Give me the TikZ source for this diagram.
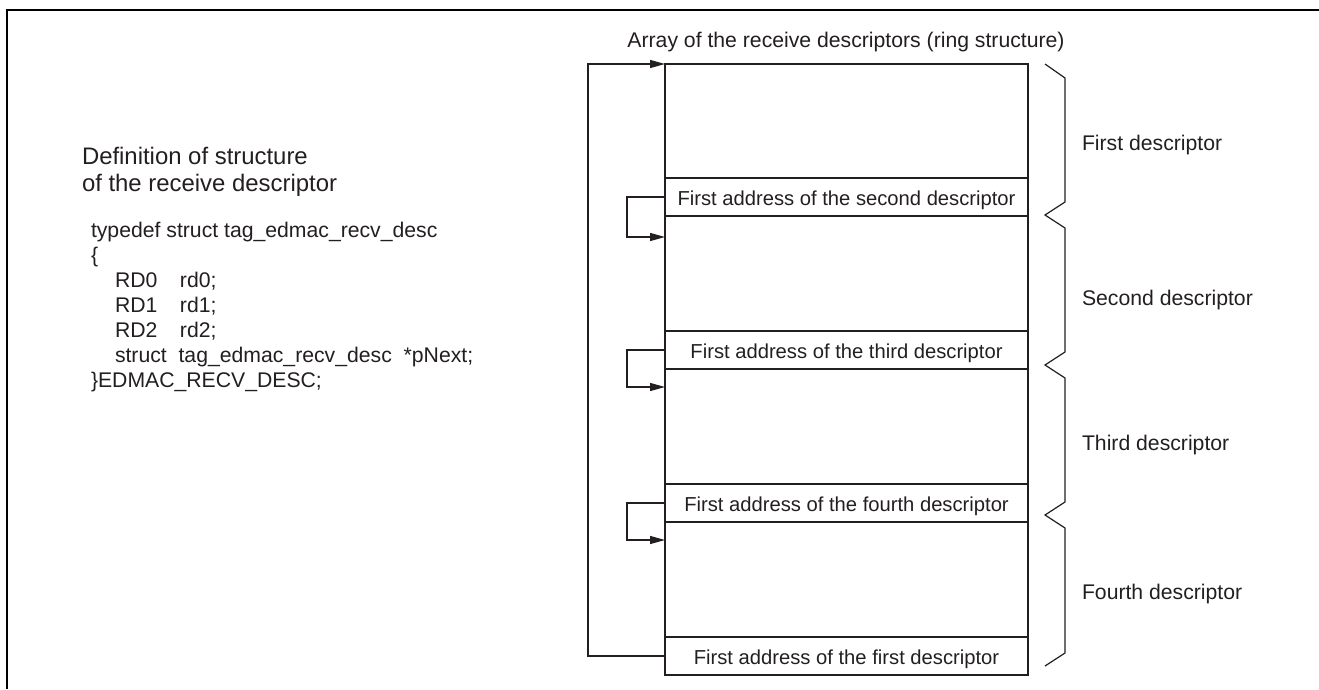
\documentclass[tikz,border=0pt]{standalone}
\usepackage{fontspec}
\setmainfont{Liberation Sans}
\usetikzlibrary{arrows.meta}
\definecolor{ink}{HTML}{231F20}

\begin{document}
\begin{tikzpicture}[x=1pt,y=-1pt,
  every node/.style={text=ink, inner sep=0pt, outer sep=0pt},
  frame/.style={draw=black, line width=2.2pt},
  cell/.style={draw=ink, line width=2.8pt, minimum width=363pt, anchor=north west},
  body/.style={cell, minimum height=#1},
  addr/.style={cell, minimum height=38pt, font=\fontsize{20.2}{24}\selectfont,
               text height=17pt, text depth=0pt},
  link/.style={draw=ink, line width=1.3pt, -{Triangle[length=15pt,width=8pt]}},
  brace/.style={draw=ink, line width=1.2pt, line join=miter},
  lbl/.style={font=\fontsize{21.2}{25}\selectfont, anchor=base west},
  head/.style={font=\fontsize{23.9}{27}\selectfont, anchor=base west},
  code/.style={font=\fontsize{21.2}{25}\selectfont, anchor=base west}]

\useasboundingbox (0,0) rectangle (1319,689);

% partial outer frame
\draw[frame] (7,689) -- (7,10) -- (1319,10);

% title of the ring array
\node[lbl, anchor=base] (title) at (846,47) {Array of the receive descriptors (ring structure)};

% descriptor ring: body cells and address cells
\node[body=114pt] (b1) at (665,64) {};
\node[addr] (a1) at (b1.south west) {First address of the second descriptor};
\node[body=115pt] (b2) at (a1.south west) {};
\node[addr] (a2) at (b2.south west) {First address of the third descriptor};
\node[body=115pt] (b3) at (a2.south west) {};
\node[addr] (a3) at (b3.south west) {First address of the fourth descriptor};
\node[body=115pt] (b4) at (a3.south west) {};
\node[addr] (a4) at (b4.south west) {First address of the first descriptor};

% next-pointer links
\draw[link] (a1.west) -- ++(-38,0) |- ([yshift=-21pt]b2.north west);
\draw[link] (a2.west) -- ++(-38,0) |- ([yshift=-18pt]b3.north west);
\draw[link] (a3.west) -- ++(-38,0) |- ([yshift=-18pt]b4.north west);
\draw[link] (a4.west) -- ++(-77,0) |- (b1.north west);

% braces grouping each descriptor
\draw[brace] (1045,64) -- (1065,78) -- (1065,202) -- (1045,215) -- (1065,228)
  -- (1065,352) -- (1045,365) -- (1065,378) -- (1065,502) -- (1045,515)
  -- (1065,528) -- (1065,653) -- (1045,666);

\node[lbl] (d1) at (1082,150.5) {First descriptor};
\node[lbl] (d2) at (1082,305.5) {Second descriptor};
\node[lbl] (d3) at (1082,450.5) {Third descriptor};
\node[lbl] (d4) at (1082,599.5) {Fourth descriptor};

% structure definition
\node[head] (h1) at (82,164) {Definition of structure};
\node[head] (h2) at (82,191) {of the receive descriptor};

\node[code] (c1) at (91,237) {typedef struct tag\_edmac\_recv\_desc};
\node[code] (c2) at (91,262) {\{};
\node[code] (c3) at (115,287) {\makebox[65pt][l]{RD0}rd0;};
\node[code] (c4) at (115,312) {\makebox[65pt][l]{RD1}rd1;};
\node[code] (c5) at (115,337) {\makebox[65pt][l]{RD2}rd2;};
\node[code] (c6) at (115,362) {struct\ \ tag\_edmac\_recv\_desc\ \ *pNext;};
\node[code] (c7) at (91,387) {\}EDMAC\_RECV\_DESC;};

\end{tikzpicture}
\end{document}
